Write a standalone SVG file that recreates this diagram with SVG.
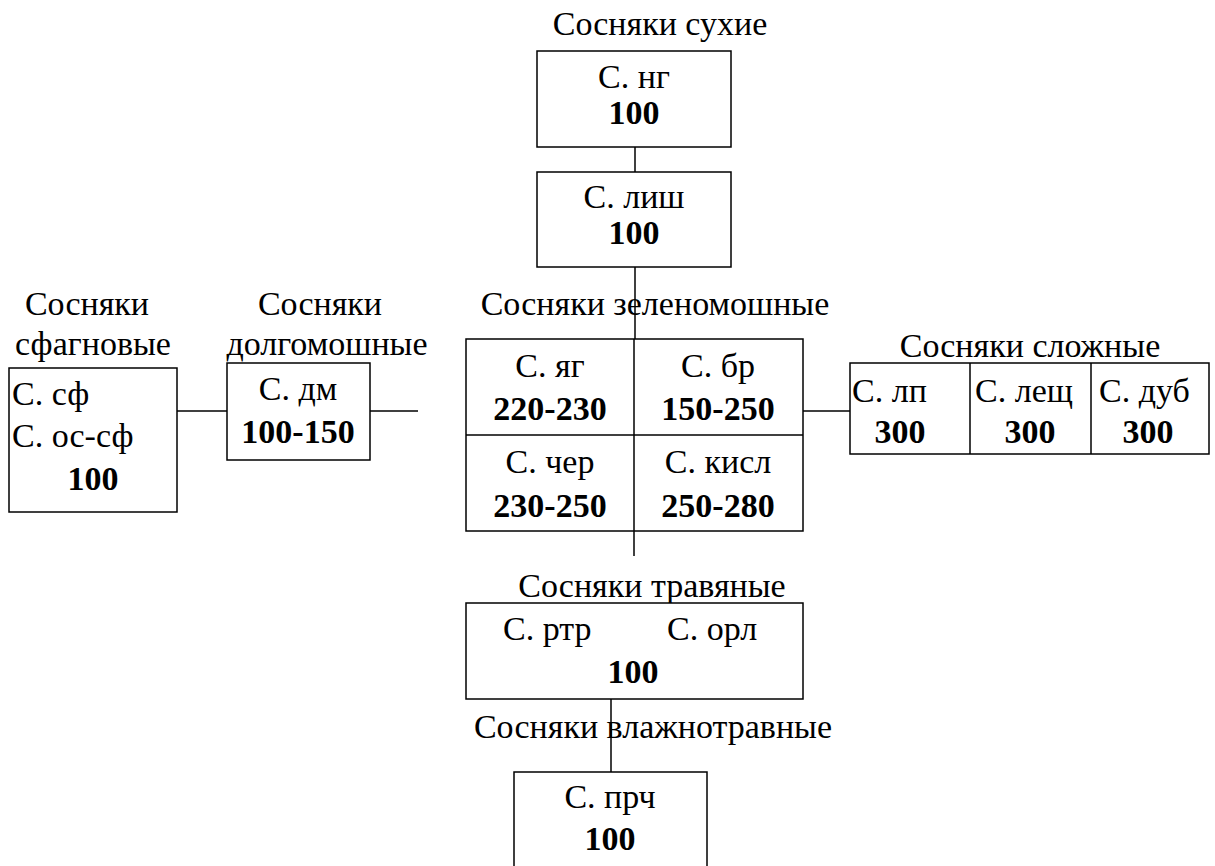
<svg xmlns="http://www.w3.org/2000/svg" width="1215" height="866" viewBox="0 0 1215 866">
<style>
text{font-family:"Times New Roman",Times,Tinos,"Liberation Serif","Noto Serif","DejaVu Serif",serif;font-size:34px;fill:#000}
.b{font-weight:bold}
.m{text-anchor:middle}
rect{fill:#fff;stroke:#000;stroke-width:1.5}
line{stroke:#000;stroke-width:1.5}
</style>
<rect x="0" y="0" width="1215" height="866" style="stroke:none"/>
<g id="connectors">
<line x1="635" y1="147" x2="635" y2="172"/>
<line x1="635" y1="267" x2="635" y2="339"/>
<line x1="634" y1="531" x2="634" y2="556"/>
<line x1="803" y1="411" x2="850" y2="411"/>
<line x1="177" y1="411" x2="227" y2="411"/>
<line x1="370" y1="411" x2="418" y2="411"/>
<line x1="611" y1="699" x2="611" y2="772"/>
</g>
<g id="n-suhie">
<text x="660" y="35" class="m">Сосняки сухие</text>
<rect x="537" y="51" width="194" height="96"/>
<text x="634" y="88" class="m">С. нг</text>
<text x="634" y="124" class="m b">100</text>
</g>
<g id="n-lish">
<rect x="537" y="172" width="194" height="95"/>
<text x="634" y="208" class="m">С. лиш</text>
<text x="634" y="244" class="m b">100</text>
</g>
<g id="n-zelenomoshnye">
<text x="655" y="315" class="m">Сосняки зеленомошные</text>
<rect x="466" y="339" width="337" height="192"/>
<line x1="466" y1="435" x2="803" y2="435"/>
<line x1="634" y1="339" x2="634" y2="531"/>
<text x="550" y="377" class="m">С. яг</text>
<text x="550" y="420" class="m b">220-230</text>
<text x="718" y="377" class="m">С. бр</text>
<text x="718" y="420" class="m b">150-250</text>
<text x="550" y="473" class="m">С. чер</text>
<text x="550" y="517" class="m b">230-250</text>
<text x="718" y="473" class="m">С. кисл</text>
<text x="718" y="517" class="m b">250-280</text>
</g>
<g id="n-slozhnye">
<text x="1030" y="357" class="m">Сосняки сложные</text>
<rect x="850" y="363" width="359" height="91"/>
<line x1="970" y1="363" x2="970" y2="454"/>
<line x1="1091" y1="363" x2="1091" y2="454"/>
<text x="852" y="402">С. лп</text>
<text x="900" y="443" class="m b">300</text>
<text x="975" y="402">С. лещ</text>
<text x="1030" y="443" class="m b">300</text>
<text x="1099" y="402">С. дуб</text>
<text x="1148" y="443" class="m b">300</text>
</g>
<g id="n-sfagnovye">
<text x="87" y="315" class="m">Сосняки</text>
<text x="93" y="355" class="m">сфагновые</text>
<rect x="9" y="368" width="168" height="144"/>
<text x="12" y="405">С. сф</text>
<text x="12" y="447">С. ос-сф</text>
<text x="93" y="490" class="m b">100</text>
</g>
<g id="n-dolgomoshnye">
<text x="320" y="315" class="m">Сосняки</text>
<text x="327" y="355" class="m">долгомошные</text>
<rect x="227" y="363" width="143" height="97"/>
<text x="298" y="400" class="m">С. дм</text>
<text x="298" y="443" class="m b">100-150</text>
</g>
<g id="n-travyanye">
<text x="652" y="597" class="m">Сосняки травяные</text>
<rect x="466" y="603" width="337" height="96"/>
<text x="503" y="640">С. ртр</text>
<text x="667" y="640">С. орл</text>
<text x="633" y="683" class="m b">100</text>
</g>
<g id="n-vlazhnotravnye">
<text x="653" y="738" class="m">Сосняки влажнотравные</text>
<rect x="514" y="772" width="193" height="110"/>
<text x="610" y="808" class="m">С. прч</text>
<text x="610" y="850" class="m b">100</text>
</g>
</svg>
